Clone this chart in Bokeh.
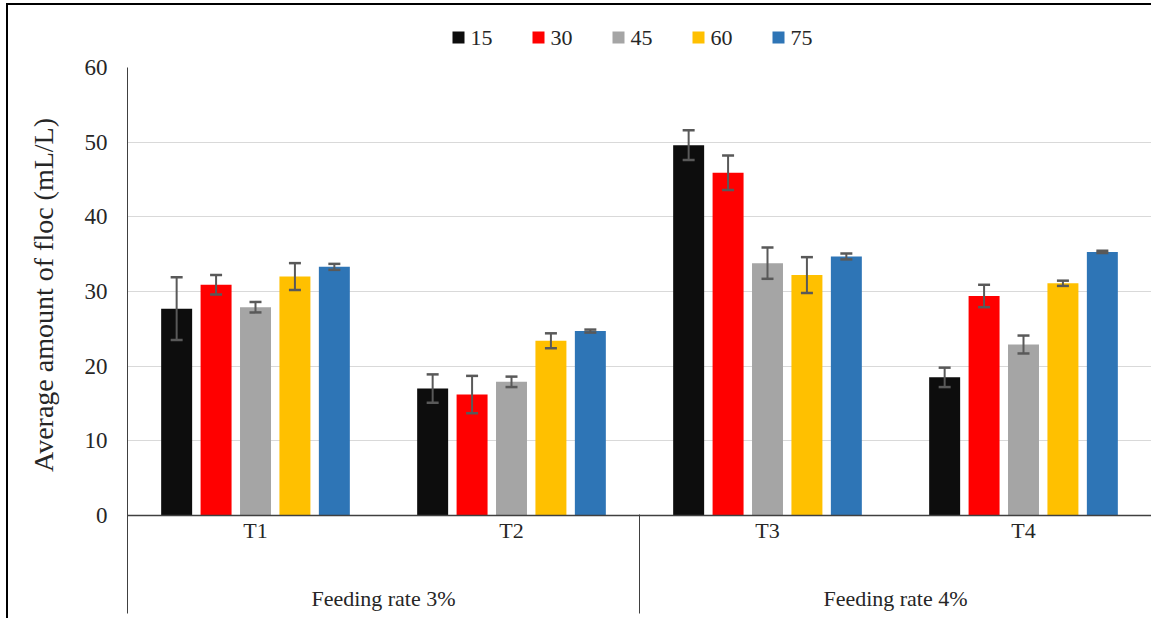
from bokeh.plotting import figure
from bokeh.layouts import column
from bokeh.models import (ColumnDataSource, Range1d, FixedTicker, LinearAxis,
                          Whisker, TeeHead)
from bokeh.core.properties import value
from bokeh.embed import file_html
from bokeh.resources import INLINE

# ---------------- data ----------------
treatments = ["T1", "T2", "T3", "T4"]
feeding_groups = ["Feeding rate 3%", "Feeding rate 4%"]
series = ["15", "30", "45", "60", "75"]
colors = ["#0d0d0d", "#ff0000", "#a5a5a5", "#ffc000", "#2e75b6"]

mean_15 = [27.7, 17.0, 49.6, 18.5]
mean_30 = [30.9, 16.2, 45.9, 29.4]
mean_45 = [27.9, 17.9, 33.8, 22.9]
mean_60 = [32.0, 23.4, 32.2, 31.1]
mean_75 = [33.3, 24.7, 34.7, 35.3]

err_15 = [4.2, 1.9, 2.0, 1.3]
err_30 = [1.3, 2.5, 2.3, 1.5]
err_45 = [0.7, 0.7, 2.1, 1.2]
err_60 = [1.8, 1.0, 2.4, 0.35]
err_75 = [0.4, 0.2, 0.4, 0.15]

y_ticks = [0, 10, 20, 30, 40, 50, 60]
y_title = "Average  amount of floc (mL/L)"

means = [mean_15, mean_30, mean_45, mean_60, mean_75]
errs = [err_15, err_30, err_45, err_60, err_75]

FONT = "Liberation Serif"
TXT = "#262626"
AXC = "#404040"

W = 1143
LH = 50          # legend strip height
MH = 613 - LH    # main figure height

# ---------------- main figure ----------------
p = figure(width=W, height=MH, output_backend="svg", toolbar_location=None,
           x_range=Range1d(0, 4), y_range=Range1d(0, 60),
           min_border_left=119, min_border_right=0, min_border_top=12,
           min_border_bottom=103, x_axis_location=None)
p.outline_line_color = None
p.background_fill_color = "white"
p.border_fill_color = "white"

cat_centers = [i + 0.5 for i in range(len(treatments))]
pitch = 0.154
bar_w = 0.121

for j, (name, col, m, e) in enumerate(zip(series, colors, means, errs)):
    xs = [c + (j - 2) * pitch for c in cat_centers]
    src = ColumnDataSource(dict(x=xs, top=m,
                                upper=[a + b for a, b in zip(m, e)],
                                lower=[a - b for a, b in zip(m, e)]))
    p.vbar(x="x", top="top", width=bar_w, bottom=0, source=src,
           fill_color=col, line_color=None)
    wk = Whisker(base="x", upper="upper", lower="lower", source=src,
                 dimension="height", line_color="#595959", line_width=2,
                 level="overlay",
                 upper_head=TeeHead(size=12, line_color="#595959", line_width=2.5),
                 lower_head=TeeHead(size=12, line_color="#595959", line_width=2.5))
    p.add_layout(wk)

# y axis
p.yaxis.ticker = FixedTicker(ticks=y_ticks)
p.yaxis.major_tick_out = 0
p.yaxis.major_tick_in = 0
p.yaxis.minor_tick_out = 0
p.yaxis.minor_tick_in = 0
p.yaxis.axis_line_color = AXC
p.yaxis.axis_line_width = 1
p.yaxis.major_label_text_font = FONT
p.yaxis.major_label_text_font_size = "23px"
p.yaxis.major_label_text_color = TXT
p.yaxis.major_label_standoff = 20
p.yaxis.axis_label = y_title
p.yaxis.axis_label_text_font = FONT
p.yaxis.axis_label_text_font_size = "28px"
p.yaxis.axis_label_text_font_style = "normal"
p.yaxis.axis_label_text_color = TXT
p.yaxis.axis_label_standoff = 23

p.ygrid.ticker = FixedTicker(ticks=y_ticks)
p.ygrid.grid_line_color = "#d9d9d9"
p.ygrid.grid_line_width = 1.2
p.xgrid.grid_line_color = None

# category axis (inner level)
ax1 = LinearAxis(ticker=FixedTicker(ticks=cat_centers, minor_ticks=[]))
ax1.major_label_overrides = {c: t for c, t in zip(cat_centers, treatments)}
ax1.major_tick_out = 0
ax1.major_tick_in = 0
ax1.minor_tick_out = 0
ax1.minor_tick_in = 0
ax1.axis_line_color = AXC
ax1.axis_line_width = 1.4
ax1.major_label_text_font = FONT
ax1.major_label_text_font_size = "22px"
ax1.major_label_text_color = TXT
ax1.major_label_standoff = 2
p.add_layout(ax1, "below")

# category axis (outer level)
grp_centers = [1.0, 3.0]
ax2 = LinearAxis(ticker=FixedTicker(ticks=grp_centers, minor_ticks=[]))
ax2.major_label_overrides = {c: t for c, t in zip(grp_centers, feeding_groups)}
ax2.major_tick_out = 0
ax2.major_tick_in = 0
ax2.minor_tick_out = 0
ax2.minor_tick_in = 0
ax2.axis_line_color = None
ax2.major_label_text_font = FONT
ax2.major_label_text_font_size = "22px"
ax2.major_label_text_color = TXT
ax2.major_label_standoff = 40
p.add_layout(ax2, "below")

# group separators (tick lines reaching up to the category axis)
group_bounds = [0, 2, 4]
ax3 = LinearAxis(ticker=FixedTicker(ticks=group_bounds, minor_ticks=[]))
ax3.major_label_overrides = {b: "" for b in group_bounds}
ax3.major_label_text_font_size = "1px"
ax3.major_label_text_alpha = 0
ax3.major_label_standoff = 0
ax3.major_tick_out = 0
ax3.major_tick_in = 99
ax3.major_tick_line_color = AXC
ax3.major_tick_line_width = 1
ax3.minor_tick_out = 0
ax3.minor_tick_in = 0
ax3.axis_line_color = None
p.add_layout(ax3, "below")

# ---------------- legend strip (keys drawn with serif labels) ----------------
lf = figure(width=W, height=LH, output_backend="svg", toolbar_location=None,
            x_range=Range1d(0, 1024), y_range=Range1d(0, 1),
            min_border=0, x_axis_location=None, y_axis_location=None)
lf.outline_line_color = None
lf.xgrid.grid_line_color = None
lf.ygrid.grid_line_color = None
key_pitch = 80
key_start = 331
key_x = [key_start + key_pitch * i for i in range(len(series))]
label_x = [k + 12 for k in key_x]
key_y = [0.36] * len(series)
lf.scatter(x=key_x, y=key_y, marker="square", size=12,
           fill_color=colors, line_color=None)
lf.text(x=label_x, y=key_y, text=series, text_font=value(FONT),
        text_font_size="22px", text_color=TXT, text_align="left",
        text_baseline="middle")

layout = column(lf, p, spacing=0, margin=(3, 0, 0, 6),
                styles={"border-left": "2px solid #000", "border-top": "2px solid #000"})

open("out.html", "w").write(file_html(layout, INLINE))
